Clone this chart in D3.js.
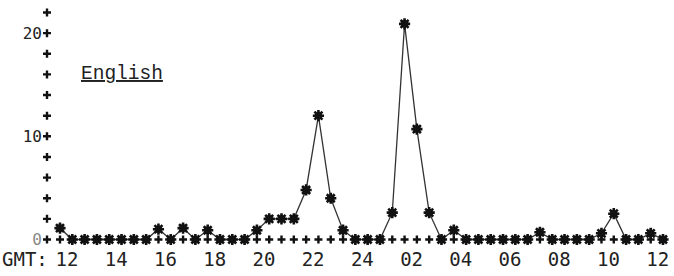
<!DOCTYPE html>
<html>
<head>
<meta charset="utf-8">
<script src="https://cdn.jsdelivr.net/npm/d3@7"></script>
<style>
  body { margin: 0; background: #fff; }
  svg { display: block; }
</style>
</head>
<body>
<svg id="chart"></svg>
<script>
// half-hourly readings, 12 GMT to 12 GMT (plus one extra slot at the end)
const values = [
  1.1, 0, 0, 0, 0, 0, 0, 0, 1.0, 0,
  1.1, 0, 0.9, 0, 0, 0, 0.9, 2.0, 2.0, 2.0,
  4.8, 12.0, 4.0, 0.9, 0, 0, 0, 2.6, 20.9, 10.7,
  2.6, 0, 0.9, 0, 0, 0, 0, 0, 0, 0.7,
  0, 0, 0, 0, 0.6, 2.5, 0, 0, 0.6, 0
]
const hourLabels = ["12", "14", "16", "18", "20", "22", "24", "02", "04", "06", "08", "10", "12"]
const yTicks = d3.range(0, 23, 2)
const yLabels = [0, 10, 20]
const language = "English"

const width = 674
const height = 276

const x = d3.scaleLinear().domain([0, values.length - 1]).range([60, 663])
const y = d3.scaleLinear().domain([0, 22]).range([239.5, 12.5])
const axisX = 47

const svg = d3.select("#chart").attr("width", width).attr("height", height)
svg.append("rect").attr("width", width).attr("height", height).attr("fill", "#fff")

const ink = "#111"

// little typed "+" marks
const plus = (g, px, py, r) => g.append("path")
  .attr("d", `M${px - r},${py}H${px + r}M${px},${py - r}V${py + r}`)
  .attr("stroke", ink).attr("stroke-width", 2.4).attr("fill", "none")

// y axis: a column of + marks
const yAxis = svg.append("g")
yTicks.forEach(t => plus(yAxis, axisX, y(t), 4))

yAxis.selectAll("text")
  .data(yLabels)
  .join("text")
  .attr("x", axisX - 5)
  .attr("y", d => y(d) + 5.5)
  .attr("text-anchor", "end")
  .attr("font-family", "DejaVu Sans Mono")
  .attr("font-size", 16)
  .attr("fill", d => d === 0 ? "#888" : "#222")
  .text(d => d)

// x axis: a row of + marks, one per slot
const xAxis = svg.append("g")
values.forEach((v, i) => plus(xAxis, x(i), y(0), 4))

xAxis.selectAll("text")
  .data(hourLabels)
  .join("text")
  .attr("x", (d, i) => x(i * 4) + 7)
  .attr("y", 266)
  .attr("text-anchor", "middle")
  .attr("font-family", "DejaVu Sans Mono")
  .attr("font-size", 19)
  .attr("fill", "#222")
  .text(d => d)

svg.append("text")
  .attr("x", 2)
  .attr("y", 266)
  .attr("font-family", "DejaVu Sans Mono")
  .attr("font-size", 19)
  .attr("fill", "#222")
  .text("GMT:")

// the series line
const line = d3.line().x((d, i) => x(i)).y(d => y(d))
svg.append("path")
  .datum(values)
  .attr("d", line)
  .attr("fill", "none")
  .attr("stroke", "#333")
  .attr("stroke-width", 1.3)

// star-like point markers
const star = (px, py) => {
  const r = 5.6, s = 4
  return `M${px - r},${py}H${px + r}M${px},${py - r}V${py + r}` +
    `M${px - s},${py - s}L${px + s},${py + s}M${px - s},${py + s}L${px + s},${py - s}`
}
const pts = svg.append("g")
pts.selectAll("path")
  .data(values)
  .join("path")
  .attr("d", (d, i) => star(x(i), y(d)))
  .attr("stroke", ink)
  .attr("stroke-width", 2.6)
  .attr("fill", "none")
pts.selectAll("circle")
  .data(values)
  .join("circle")
  .attr("cx", (d, i) => x(i))
  .attr("cy", d => y(d))
  .attr("r", 3.8)
  .attr("fill", ink)

// series title
svg.append("text")
  .attr("x", 81)
  .attr("y", 79)
  .attr("font-family", "Liberation Mono")
  .attr("font-size", 19.5)
  .attr("fill", "#222")
  .attr("text-decoration", "underline")
  .text(language)
</script>
</body>
</html>
